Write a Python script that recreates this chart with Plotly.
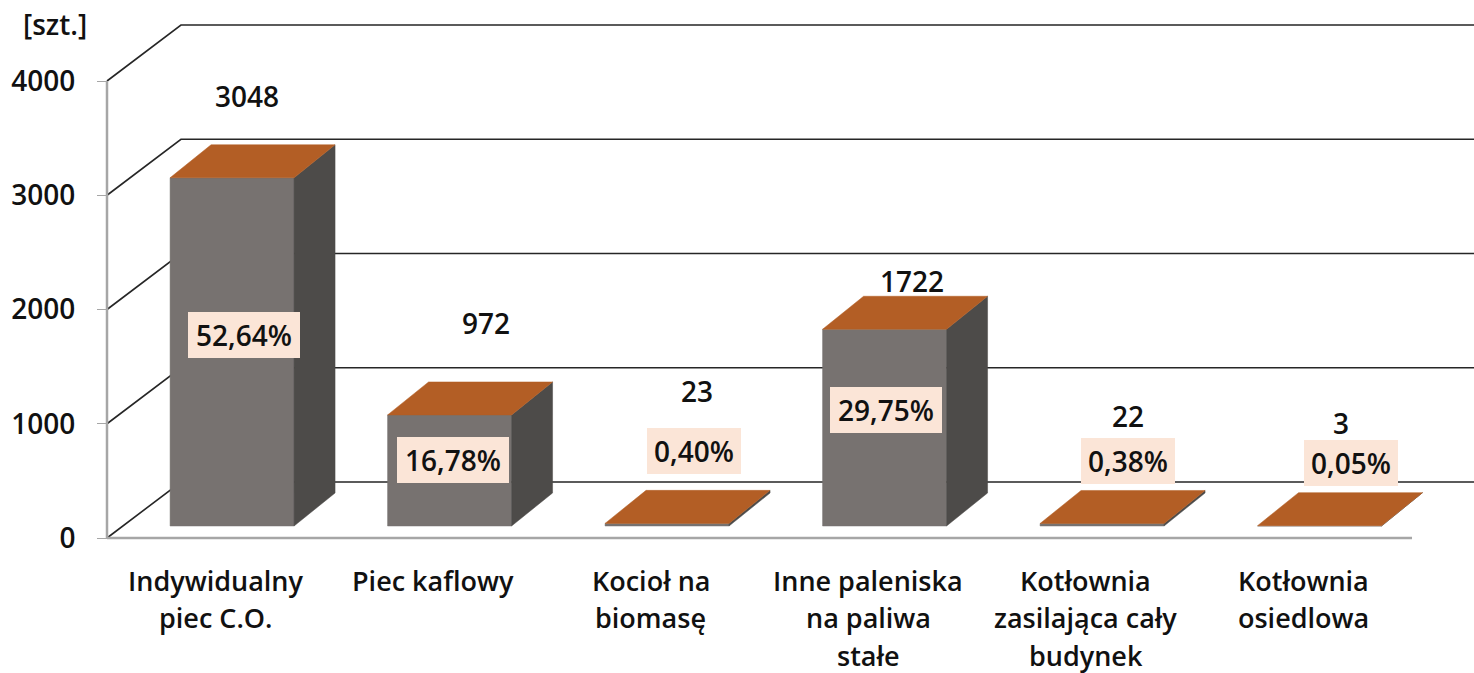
import plotly.graph_objects as go

# --- data ---
categories = [
    ["Indywidualny", "piec C.O."],
    ["Piec kaflowy"],
    ["Kocioł na", "biomasę"],
    ["Inne paleniska", "na paliwa", "stałe"],
    ["Kotłownia", "zasilająca cały", "budynek"],
    ["Kotłownia", "osiedlowa"],
]
values = [3048, 972, 23, 1722, 22, 3]
percents = ["52,64%", "16,78%", "0,40%", "29,75%", "0,38%", "0,05%"]
y_ticks = [0, 1000, 2000, 3000, 4000]

# hand-placed label anchors (category units / value units)
value_label_x = [0.144, 1.243, 2.213, 3.201, 4.194, 5.174]
value_label_y = [3860, 1873, 1278, 2241, 1059, 998]
pct_label_x = [0.130, 1.091, 2.199, 3.082, 4.194, 5.220]
pct_label_y = [1777, 683, 761, 1120, 674, 656]

# --- 3D projection, in axis units ---
WALL_DX, WALL_DY = 0.34, 490
BAR_LEFT, BAR_RIGHT = -0.21, 0.36
BAR_DX, BAR_DY = 0.1885, 289
BAR_BASE = 105
X_MIN, FLOOR_END, X_MAX = -0.5, 5.5, 5.785
Y_MAX = 4709
# the plot area extends a little past the drawn axes so their strokes are not clipped
PAD_PX = 10
X_PER_PX, Y_PER_PX = 1 / 217.5, 1 / 0.11425

FONT = "Open Sans"
TEXT = "#111111"
GRID = "#262626"
TOP = "#B35E25"
FRONT = "#777270"
SIDE = "#4D4B49"
AXIS = "#A6A6A6"

fig = go.Figure()


def poly(xs, ys, color):
    fig.add_trace(go.Scatter(x=xs, y=ys, mode="lines", fill="toself", fillcolor=color,
                             line=dict(color=color, width=0.5), cliponaxis=False,
                             hoverinfo="skip", showlegend=False))


def line(xs, ys, color, width):
    fig.add_trace(go.Scatter(x=xs, y=ys, mode="lines", line=dict(color=color, width=width),
                             cliponaxis=False, hoverinfo="skip", showlegend=False))


for t in y_ticks:
    line([X_MIN, X_MIN + WALL_DX, X_MAX], [t, t + WALL_DY, t + WALL_DY], GRID, 1.6)

line([X_MIN, FLOOR_END], [0, 0], AXIS, 2.5)
line([X_MIN, X_MIN], [0, max(y_ticks)], AXIS, 2.5)

for i, v in enumerate(values):
    x0, x1 = i + BAR_LEFT, i + BAR_RIGHT
    y0, y1 = BAR_BASE, BAR_BASE + v
    poly([x0, x1, x1, x0, x0], [y0, y0, y1, y1, y0], FRONT)
    poly([x1, x1 + BAR_DX, x1 + BAR_DX, x1, x1],
         [y0, y0 + BAR_DY, y1 + BAR_DY, y1, y0], SIDE)
    poly([x0, x1, x1 + BAR_DX, x0 + BAR_DX, x0],
         [y1, y1, y1 + BAR_DY, y1 + BAR_DY, y1], TOP)

ann = []
for x, y, v in zip(value_label_x, value_label_y, values):
    ann.append(dict(x=x, y=y, text=str(v), showarrow=False, yshift=1,
                    font=dict(family=FONT, size=28, color=TEXT, weight=600)))
for x, y, p in zip(pct_label_x, pct_label_y, percents):
    ann.append(dict(x=x, y=y, text=p, showarrow=False, bgcolor="#FBE5D7",
                    width=112 if len(p) == 6 else 94, height=46,
                    borderpad=0, borderwidth=0,
                    font=dict(family=FONT, size=28, color=TEXT, weight=600)))
for i, lines in enumerate(categories):
    for j, txt in enumerate(lines):
        ann.append(dict(x=i, xref="x", y=0, yref="y", yanchor="middle",
                        yshift=-42 - 37.5 * j, text=txt, showarrow=False,
                        font=dict(family=FONT, size=27, color=TEXT, weight=600)))
ann.append(dict(x=-0.0305, xref="paper", xanchor="center", y=4495, text="[szt.]", showarrow=False,
                font=dict(family=FONT, size=28, color=TEXT, weight=600)))

fig.update_layout(
    width=1474, height=673, margin=dict(l=107 - PAD_PX, r=0, t=0, b=135 - PAD_PX),
    paper_bgcolor="white", plot_bgcolor="white", showlegend=False, annotations=ann,
    xaxis=dict(range=[X_MIN - PAD_PX * X_PER_PX, X_MAX], showgrid=False, zeroline=False,
               showline=False, tickvals=[], showticklabels=False, automargin=False),
    yaxis=dict(range=[-PAD_PX * Y_PER_PX, Y_MAX], tickvals=y_ticks, showgrid=False,
               zeroline=False, showline=False, ticks="outside", ticklen=10, automargin=False,
               anchor="free", position=PAD_PX / (1474 - 107 + PAD_PX),
               tickcolor=AXIS, tickwidth=1, ticklabelstandoff=16,
               tickfont=dict(family=FONT, size=28, color=TEXT, weight=600)),
)

fig.write_html("out.html", config=dict(displayModeBar=False),
               post_script="document.body.style.margin='0';document.body.style.overflow='hidden';")
